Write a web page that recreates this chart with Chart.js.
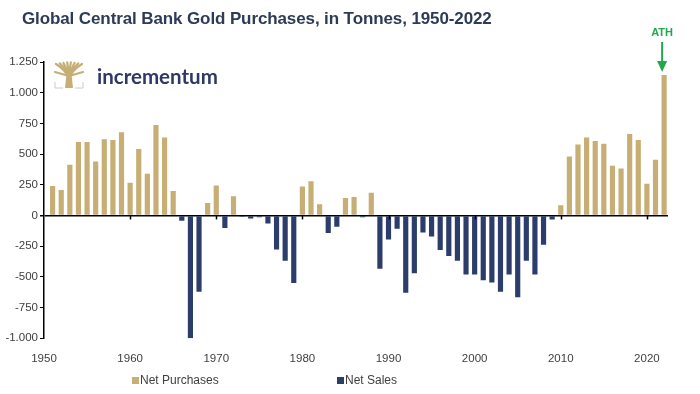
<!DOCTYPE html>
<html>
<head>
<meta charset="utf-8">
<script src="https://cdn.jsdelivr.net/npm/chart.js@4"></script>
<style>
  html, body { margin: 0; padding: 0; background: #fff; }
  #wrap { width: 700px; height: 394px; position: relative; }
</style>
</head>
<body>
<div id="wrap"><canvas id="goldChart"></canvas></div>
<script>
// Central bank net gold purchases (+) / net sales (-), tonnes
var years = [];
for (var y = 1951; y <= 2022; y++) years.push(y);

var netTonnes = [
  240, 208, 413, 598, 598, 440, 620, 614, 677, 266,    // 1951-1960
  541, 339, 737, 634, 200, -43, -1000, -621, 102, 244,  // 1961-1970
  -102, 156, -10, -25, -15, -65, -277, -370, -550, 236, // 1971-1980
  279, 91, -143, -92, 143, 151, -15, 184, -435, -195,   // 1981-1990
  -108, -629, -470, -138, -171, -282, -331, -370, -482, -482, // 1991-2000
  -528, -547, -621, -482, -667, -370, -482, -239, -34, 83,    // 2001-2010
  481, 577, 634, 606, 585, 405, 383, 663, 614, 258,     // 2011-2020
  454, 1144                                             // 2021-2022
];

var yTicks = [-1000, -750, -500, -250, 0, 250, 500, 750, 1000, 1250];
var xTicks = [1950, 1960, 1970, 1980, 1990, 2000, 2010, 2020];

var seriesNames = ['Net Purchases', 'Net Sales'];
var gold = '#C6AE74';
var navy = '#2C3D6C';

var purchases = years.map(function(yr, i) { return netTonnes[i] > 0 ? { x: yr, y: netTonnes[i] } : null; }).filter(Boolean);
var sales = years.map(function(yr, i) { return netTonnes[i] < 0 ? { x: yr, y: netTonnes[i] } : null; }).filter(Boolean);

function fmt(v) {
  var s = String(Math.abs(v)).replace(/\B(?=(\d{3})+(?!\d))/g, '.');
  return (v < 0 ? '-' : '') + s;
}

// title, logo, ATH note, legend and zero-line ticks
var decor = {
  id: 'decor',
  afterDraw: function(chart) {
    var c = chart.ctx, xs = chart.scales.x, ys = chart.scales.y;
    c.save();

    // title
    c.fillStyle = '#2E3B56';
    c.font = 'bold 17px "Liberation Sans", Arial, sans-serif';
    c.textBaseline = 'middle';
    var title = 'Global Central Bank Gold Purchases, in Tonnes, 1950-2022';
    var w = c.measureText(title).width;
    if ('letterSpacing' in c) {
      c.letterSpacing = ((470 - w) / (title.length - 1)).toFixed(2) + 'px';
    }
    c.fillText(title, 22, 19);
    c.letterSpacing = '0px';

    // zero line tick marks for the decades
    var y0 = ys.getPixelForValue(0);
    c.strokeStyle = '#000';
    c.lineWidth = 1.5;
    xTicks.forEach(function(t) {
      if (t === 1950) return;
      var px = Math.round(xs.getPixelForValue(t)) + 0.5;
      c.beginPath(); c.moveTo(px, y0); c.lineTo(px, y0 + 4); c.stroke();
    });

    // logo mark: a tree with a square crown
    var bx = 69, by = 84;
    c.strokeStyle = gold;
    c.lineWidth = 2.2;
    c.lineCap = 'round';
    for (var k = 0; k < 8; k++) {
      var tx = 56 + k * 26 / 7;
      c.beginPath();
      c.moveTo(bx, by - 6);
      c.quadraticCurveTo(bx + (tx - bx) * 0.25, 70, tx, 62 + Math.abs(tx - bx) * 0.15);
      c.stroke();
    }
    c.beginPath(); c.moveTo(bx, by - 8); c.lineTo(55, 72); c.stroke();
    c.beginPath(); c.moveTo(bx, by - 8); c.lineTo(83, 72); c.stroke();
    c.fillStyle = gold;
    c.beginPath();
    c.moveTo(bx - 2.5, by - 10); c.lineTo(bx + 2.5, by - 10);
    c.lineTo(bx + 4, by + 4); c.lineTo(bx - 4, by + 4); c.closePath();
    c.fill();
    c.strokeStyle = '#CCCCCC';
    c.lineWidth = 1;
    c.lineCap = 'butt';
    c.beginPath();
    c.moveTo(55, 82); c.lineTo(55, 88); c.lineTo(63, 88);
    c.moveTo(75, 88); c.lineTo(83, 88); c.lineTo(83, 82);
    c.stroke();

    c.fillStyle = '#2F3867';
    c.font = 'bold 20.5px Lato, "Open Sans", sans-serif';
    c.textAlign = 'left';
    c.fillText('incrementum', 97, 77);

    // ATH note on the last bar
    var ax = xs.getPixelForValue(years[years.length - 1]);
    c.fillStyle = '#21A84C';
    c.strokeStyle = '#21A84C';
    c.font = 'bold 11px "Liberation Sans", Arial, sans-serif';
    c.textAlign = 'center';
    c.fillText('ATH', ax - 2, 33);
    c.lineWidth = 2;
    c.beginPath(); c.moveTo(ax - 2, 42); c.lineTo(ax - 2, 63); c.stroke();
    c.beginPath();
    c.moveTo(ax - 7, 61); c.lineTo(ax + 3, 61); c.lineTo(ax - 2, 72); c.closePath();
    c.fill();

    // legend
    c.font = '12px "Liberation Sans", Arial, sans-serif';
    c.textAlign = 'left';
    var items = [[132, gold], [337, navy]];
    items.forEach(function(it, i) {
      c.fillStyle = it[1];
      c.fillRect(it[0], 377, 7, 7);
      c.fillStyle = '#404040';
      c.fillText(seriesNames[i], it[0] + 8, 381);
    });

    c.restore();
  }
};

new Chart(document.getElementById('goldChart').getContext('2d'), {
  type: 'bar',
  data: {
    datasets: [
      { label: seriesNames[0], data: purchases, backgroundColor: gold, grouped: false,
        barPercentage: 0.6, categoryPercentage: 1 },
      { label: seriesNames[1], data: sales, backgroundColor: navy, grouped: false,
        barPercentage: 0.6, categoryPercentage: 1 }
    ]
  },
  options: {
    responsive: true,
    maintainAspectRatio: false,
    animation: false,
    layout: { padding: { top: 62, right: 32, bottom: 22, left: 0 } },
    plugins: {
      legend: { display: false },
      tooltip: { enabled: false }
    },
    scales: {
      x: {
        type: 'linear',
        min: 1950,
        max: 2022.45,
        offset: false,
        grid: { display: false },
        border: { display: false },
        afterBuildTicks: function(s) { s.ticks = xTicks.map(function(v) { return { value: v }; }); },
        ticks: {
          padding: 6,
          maxRotation: 0,
          autoSkip: false,
          color: '#404040',
          font: { family: '"Liberation Sans", Arial, sans-serif', size: 11.5 },
          callback: function(v) { return String(v); }
        }
      },
      y: {
        min: -1000,
        max: 1250,
        afterFit: function(s) { s.width = 44; },
        afterBuildTicks: function(s) { s.ticks = yTicks.map(function(v) { return { value: v }; }); },
        border: { display: true, color: '#000', width: 1.5 },
        grid: {
          drawOnChartArea: true,
          drawTicks: true,
          tickLength: 4,
          tickColor: '#000',
          lineWidth: function(ctx) { return ctx.tick && ctx.tick.value === 0 ? 1.5 : 1; },
          color: function(ctx) { return ctx.tick && ctx.tick.value === 0 ? '#000' : 'rgba(0,0,0,0)'; }
        },
        ticks: {
          padding: 2,
          color: '#404040',
          font: { family: '"Liberation Sans", Arial, sans-serif', size: 11.5 },
          callback: function(v) { return fmt(v); }
        }
      }
    }
  },
  plugins: [decor]
});
</script>
</body>
</html>
